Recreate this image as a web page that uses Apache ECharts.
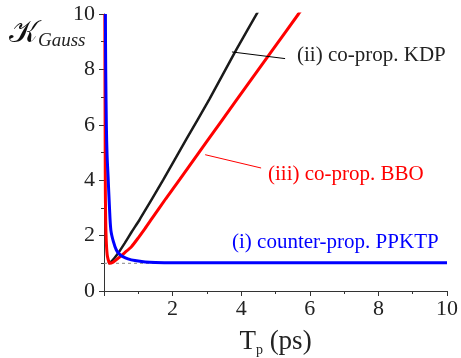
<!DOCTYPE html>
<html>
<head>
<meta charset="utf-8">
<script src="https://cdn.jsdelivr.net/npm/echarts@6/dist/echarts.min.js"></script>
<style>html,body{margin:0;padding:0;background:#fff}#c{width:461px;height:358px}</style>
</head>
<body>
<div id="c"></div>
<script>
// Tp (ps) and K values
var ppktpTp = [0.04, 0.05, 0.07, 0.09, 0.12, 0.16, 0.2, 0.27, 0.36, 0.45, 0.55, 0.7, 0.9, 1.2, 1.5, 2, 3, 5, 7, 10];
var ppktpK  = [10, 8, 5.9, 4.9, 4.1, 3.0, 2.2, 1.8, 1.48, 1.33, 1.24, 1.16, 1.1, 1.05, 1.03, 1.02, 1.02, 1.02, 1.02, 1.02];
var kdpTp = [0.12, 0.2, 0.3, 0.41, 0.6, 0.8, 1.05, 1.73, 2.41, 3.07, 3.87, 4.46, 4.6];
var kdpK  = [1.0, 1.05, 1.18, 1.36, 1.72, 2.12, 2.6, 4.02, 5.5, 6.92, 8.74, 10.02, 10.33];
var bboTp = [0.025, 0.03, 0.035, 0.04, 0.05, 0.07, 0.1, 0.17, 0.25, 0.41, 0.6, 0.8, 1.0, 1.2, 1.4, 1.8, 2.22, 3.02, 3.85, 4.9, 5.67, 5.8];
var bboK  = [10, 7, 5, 3.5, 2.5, 1.7, 1.25, 1.0, 1.03, 1.18, 1.38, 1.6, 1.92, 2.26, 2.62, 3.33, 4.05, 5.44, 6.87, 8.68, 10.0, 10.23];
var limitTp = [0, 10];
var limitK  = [1, 1];
var xTicks = [0, 2, 4, 6, 8, 10];
var yTicks = [0, 2, 4, 6, 8, 10];
var labelKDP = '(ii) co-prop. KDP';
var labelBBO = '(iii) co-prop. BBO';
var labelPPKTP = '(i) counter-prop. PPKTP';

function zip(a, b) { return a.map(function (v, i) { return [v, b[i]]; }); }

var serif = 'Liberation Serif';
var chart = echarts.init(document.getElementById('c'));
chart.setOption({
  animation: false,
  backgroundColor: '#fff',
  grid: { left: 104, right: 14, top: 14, bottom: 67, containLabel: false, outerBoundsMode: 'none' },
  xAxis: {
    type: 'value', min: xTicks[0], max: xTicks[xTicks.length - 1], interval: 2,
    name: '{t|T}{p|p}{t| (ps)}', nameLocation: 'middle', nameGap: 36,
    nameTextStyle: { rich: {
      t: { fontFamily: serif, fontSize: 27, color: '#222' },
      p: { fontFamily: serif, fontSize: 14, color: '#222', padding: [16, 0, 0, 0] }
    } },
    axisLine: { lineStyle: { color: '#333', width: 1 } },
    axisTick: { show: true, length: 5, lineStyle: { color: '#333' } },
    minorTick: { show: true, splitNumber: 2, length: 3, lineStyle: { color: '#333' } },
    splitLine: { show: false },
    axisLabel: { fontFamily: serif, fontSize: 22, color: '#222', margin: 7,
      formatter: function (v) { return v === 0 ? '' : String(v); } }
  },
  yAxis: {
    type: 'value', min: yTicks[0], max: yTicks[yTicks.length - 1], interval: 2,
    axisLine: { show: true, lineStyle: { color: '#333', width: 1 } },
    axisTick: { show: true, length: 5, lineStyle: { color: '#333' } },
    minorTick: { show: true, splitNumber: 2, length: 3, lineStyle: { color: '#333' } },
    splitLine: { show: false },
    axisLabel: { fontFamily: serif, fontSize: 22, color: '#222', margin: 9 }
  },
  series: [
    { name: 'limit', type: 'line', data: zip(limitTp, limitK), symbol: 'none',
      lineStyle: { color: '#888', width: 1, type: [3, 3] }, z: 1 },
    { name: labelKDP, type: 'line', data: zip(kdpTp, kdpK), symbol: 'none', smooth: 0.2, clip: true,
      lineStyle: { color: '#1a1a1a', width: 2.5 },
      markLine: { silent: true, symbol: 'none', label: { show: false },
        lineStyle: { color: '#000', width: 1, type: 'solid' },
        data: [[{ coord: [3.73, 8.63] }, { coord: [5.28, 8.39] }]] } },
    { name: labelBBO, type: 'line', data: zip(bboTp, bboK), symbol: 'none', smooth: 0.2, clip: true,
      lineStyle: { color: '#ff0000', width: 3 },
      markLine: { silent: true, symbol: 'none', label: { show: false },
        lineStyle: { color: '#ff0000', width: 1, type: 'solid' },
        data: [[{ coord: [2.95, 4.92] }, { coord: [4.58, 4.44] }]] } },
    { name: labelPPKTP, type: 'line', data: zip(ppktpTp, ppktpK), symbol: 'none', smooth: 0.3, clip: true,
      lineStyle: { color: '#0000ff', width: 3 } }
  ],
  graphic: [
    { type: 'text', left: 9, top: 18, style: {
      text: '{k|\uD835\uDCA6}{s|Gauss}',
      rich: {
        k: { fontFamily: 'DejaVu Serif', fontSize: 31, fill: '#111' },
        s: { fontFamily: serif, fontStyle: 'italic', fontSize: 19, fill: '#222', padding: [15, 0, 0, 0] }
      } } },
    { type: 'text', left: 297, top: 45, style: { text: labelKDP, fontFamily: serif, fontSize: 21, fill: '#222' } },
    { type: 'text', left: 268, top: 164, style: { text: labelBBO, fontFamily: serif, fontSize: 21, fill: '#ff0000' } },
    { type: 'text', left: 232, top: 232, style: { text: labelPPKTP, fontFamily: serif, fontSize: 21, fill: '#0000ff' } }
  ]
});
</script>
</body>
</html>
